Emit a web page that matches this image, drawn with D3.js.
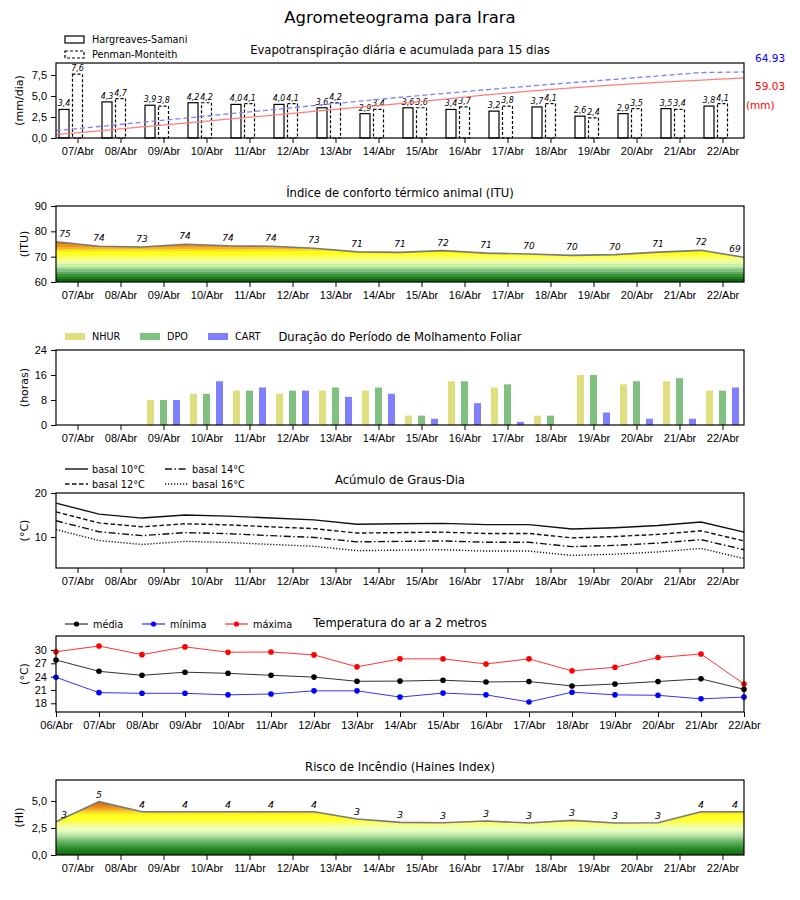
<!DOCTYPE html>
<html>
<head>
<meta charset="utf-8">
<script src="https://cdn.jsdelivr.net/npm/d3@7"></script>
<style>
  body { margin: 0; background: #fff; }
  svg { font-family: "DejaVu Sans", sans-serif; }
  .tick text { font-size: 11px; fill: #000; }
  .tick line { stroke: #000; }
</style>
</head>
<body>
<svg id="canvas" width="800" height="900"></svg>
<script>
// Tick labels
const days = ["07/Abr", "08/Abr", "09/Abr", "10/Abr", "11/Abr", "12/Abr", "13/Abr", "14/Abr",
  "15/Abr", "16/Abr", "17/Abr", "18/Abr", "19/Abr", "20/Abr", "21/Abr", "22/Abr"];
const edges = ["06/Abr"].concat(days);

// Evapotranspiration (mm/dia) and accumulated (mm)
const etHS = [3.4, 4.3, 3.9, 4.2, 4.0, 4.0, 3.6, 2.9, 3.6, 3.4, 3.2, 3.7, 2.6, 2.9, 3.5, 3.8];
const etPM = [7.6, 4.7, 3.8, 4.2, 4.1, 4.1, 4.2, 3.4, 3.6, 3.7, 3.8, 4.1, 2.4, 3.5, 3.4, 4.1];
const accHS = [3.3, 7.1, 10.9, 14.7, 18.5, 22.3, 26.1, 30.0, 33.8, 38.0, 42.3, 46.0, 49.2, 52.2, 54.6, 56.8, 59.0];
const accPM = [7.2, 11.3, 15.4, 19.5, 23.6, 27.7, 31.8, 35.9, 40.0, 43.7, 47.4, 51.0, 54.4, 57.7, 61.0, 64.3, 64.9];
const accLabels = ["64.93", "59.03"];

// ITU
const itu = [75.9, 74.1, 73.8, 74.9, 74.3, 74.1, 73.3, 71.9, 71.7, 72.4, 71.4, 71.05, 70.5, 70.8, 71.8, 72.5, 69.75];
const ituLabels = [75, 74, 73, 74, 74, 74, 73, 71, 71, 72, 71, 70, 70, 70, 71, 72, 69];

// Leaf wetness (horas)
const wetNHUR = [0, 0, 8, 10, 11, 10, 11, 11, 3, 14, 12, 3, 16, 13, 14, 11];
const wetDPO  = [0, 0, 8, 10, 11, 11, 12, 12, 3, 14, 13, 3, 16, 14, 15, 11];
const wetCART = [0, 0, 8, 14, 12, 11, 9, 10, 2, 7, 1, 0, 4, 2, 2, 12];

// Growing degree days
const gdd10 = [17.7, 15.2, 14.3, 15.0, 14.75, 14.3, 13.9, 12.9, 13.0, 13.1, 12.8, 12.8, 11.8, 12.1, 12.6, 13.4, 11.1];
const gdd12 = [15.7, 13.2, 12.3, 13.0, 12.75, 12.3, 11.9, 10.9, 11.0, 11.1, 10.8, 10.8, 9.8, 10.1, 10.6, 11.4, 9.1];
const gdd14 = [13.7, 11.2, 10.3, 11.0, 10.75, 10.3, 9.9, 8.9, 9.0, 9.1, 8.8, 8.8, 7.8, 8.1, 8.6, 9.4, 7.1];
const gdd16 = [11.7, 9.2, 8.3, 9.0, 8.75, 8.3, 7.9, 6.9, 7.0, 7.1, 6.8, 6.8, 5.8, 6.1, 6.6, 7.4, 5.1];

// Air temperature (°C)
const tMean = [27.75, 25.2, 24.3, 25.0, 24.75, 24.3, 23.9, 22.95, 23.0, 23.2, 22.8, 22.9, 21.9, 22.35, 22.9, 23.5, 21.15];
const tMin  = [23.85, 20.4, 20.25, 20.25, 19.9, 20.1, 20.8, 20.8, 19.4, 20.3, 19.9, 18.3, 20.5, 19.9, 19.8, 19.0, 19.4];
const tMax  = [29.6, 30.9, 28.95, 30.7, 29.5, 29.55, 28.9, 26.2, 28.0, 28.0, 26.85, 28.0, 25.3, 26.1, 28.3, 29.1, 22.35];

// Haines index
const haines = [3.08, 4.94, 4.0, 4.0, 4.0, 4.0, 4.0, 3.33, 3.02, 2.99, 3.15, 2.96, 3.2, 2.96, 2.99, 4.0, 4.0];

const svg = d3.select("#canvas");
const x = d3.scaleLinear().domain([0, 16]).range([56, 744]);
const comma = (f) => (d) => d3.format(f)(d).replace(".", ",");

// Frame, axes and titles of one panel
const drawPanel = (y, opts) => {
  const [bottom, top] = y.range();
  const g = svg.append("g");
  const xAxis = d3.axisBottom(x).tickSize(5).tickPadding(4);
  if (opts.edges) {
    xAxis.tickValues(d3.range(17)).tickFormat((d) => edges[d]);
  } else {
    xAxis.tickValues(d3.range(16).map((i) => i + 0.5)).tickFormat((d) => days[d - 0.5]);
  }
  g.append("g").attr("transform", `translate(0,${bottom})`).call(xAxis)
    .call((a) => a.select(".domain").remove());
  g.append("g").attr("transform", "translate(56,0)")
    .call(d3.axisLeft(y).tickValues(opts.ticks).tickFormat(opts.fmt).tickSize(5).tickPadding(4))
    .call((a) => a.select(".domain").remove());
  g.append("text")
    .attr("transform", `translate(${opts.labelX},${(top + bottom) / 2}) rotate(-90)`)
    .attr("text-anchor", "middle").attr("dy", "0.35em")
    .style("font-size", "11px").text(opts.label);
  g.append("text").attr("x", 400).attr("y", top - 9).attr("text-anchor", "middle")
    .style("font-size", "11.6px").text(opts.title);
  return g;
};

const frame = (g, y) => {
  const [bottom, top] = y.range();
  g.append("rect").attr("x", 56).attr("y", top).attr("width", 688).attr("height", bottom - top)
    .attr("fill", "none").attr("stroke", "#000").attr("stroke-width", 1.2);
};

const defs = svg.append("defs");
const banded = (id, y, stops) => {
  const grad = defs.append("linearGradient").attr("id", id)
    .attr("gradientUnits", "userSpaceOnUse")
    .attr("x1", 0).attr("x2", 0)
    .attr("y1", y(y.domain()[0])).attr("y2", y(y.domain()[1]));
  const span = y.domain()[1] - y.domain()[0];
  stops.forEach(([v, c], k) => {
    const next = k < stops.length - 1 ? stops[k + 1][0] : y.domain()[1];
    grad.append("stop").attr("offset", (v - y.domain()[0]) / span).attr("stop-color", c);
    grad.append("stop").attr("offset", (next - y.domain()[0]) / span).attr("stop-color", c);
  });
};

svg.append("text").attr("x", 400).attr("y", 23).attr("text-anchor", "middle")
  .style("font-size", "16.5px").text("Agrometeograma para Irara");

// ---------- Panel 1: evapotranspiration
const yEt = d3.scaleLinear().domain([0, 8.93]).range([138, 63]);
const yAcc = d3.scaleLinear().domain([0, 73.7]).range([138, 63]);
const p1 = drawPanel(yEt, {
  ticks: [0, 2.5, 5, 7.5], fmt: comma(".1f"), label: "(mm/dia)", labelX: 19,
  title: "Evapotranspiração diária e acumulada para 15 dias",
});
const barW = 10;
[[etHS, -13.5, null], [etPM, 0, "3,2"]].forEach(([vals, off, dash]) => {
  p1.append("g").selectAll("rect").data(vals).join("rect")
    .attr("x", (d, i) => x(i + 0.5) + off - barW / 2)
    .attr("y", (d) => yEt(d))
    .attr("width", barW)
    .attr("height", (d) => yEt(0) - yEt(d))
    .attr("fill", "#fff").attr("stroke", "#000").attr("stroke-width", 1.2)
    .attr("stroke-dasharray", dash);
  p1.append("g").selectAll("text").data(vals).join("text")
    .attr("x", (d, i) => x(i + 0.5) + off)
    .attr("y", (d) => yEt(d) - 3)
    .attr("text-anchor", "middle")
    .style("font-size", "8px").style("font-style", "italic")
    .text((d) => comma(".1f")(d));
});
p1.append("path").datum(accHS)
  .attr("d", d3.line().x((d, i) => x(i)).y((d) => yAcc(d)))
  .attr("fill", "none").attr("stroke", "#ff7f7f").attr("stroke-width", 1.3);
p1.append("path").datum(accPM)
  .attr("d", d3.line().x((d, i) => x(i)).y((d) => yAcc(d)))
  .attr("fill", "none").attr("stroke", "#7f7fff").attr("stroke-width", 1.3)
  .attr("stroke-dasharray", "5,3");
frame(p1, yEt);
p1.append("text").attr("x", 755).attr("y", 62).attr("fill", "#0000ff")
  .style("font-size", "10.5px").text(accLabels[0]);
p1.append("text").attr("x", 755).attr("y", 90).attr("fill", "#ff0000")
  .style("font-size", "10.5px").text(accLabels[1]);
p1.append("text").attr("x", 746).attr("y", 109).attr("fill", "#ff0000")
  .style("font-size", "10.5px").text("(mm)");
// legend
[["Hargreaves-Samani", null, 36], ["Penman-Monteith", "3,2", 51]].forEach(([name, dash, yy]) => {
  p1.append("rect").attr("x", 65).attr("y", yy).attr("width", 19).attr("height", 7)
    .attr("fill", "#fff").attr("stroke", "#000").attr("stroke-width", 1.2)
    .attr("stroke-dasharray", dash);
  p1.append("text").attr("x", 92).attr("y", yy + 7).style("font-size", "9.7px").text(name);
});

// ---------- Panel 2: ITU
const yItu = d3.scaleLinear().domain([60, 90]).range([282, 206]);
const p2 = drawPanel(yItu, {
  ticks: [60, 70, 80, 90], fmt: d3.format("d"), label: "(ITU)", labelX: 24,
  title: "Índice de conforto térmico animal (ITU)",
});
banded("gradItu", yItu, [
  [60, "#0b680b"], [61, "#1f7d1f"], [62, "#3a923a"], [63, "#5aa85a"], [64, "#80c080"],
  [65, "#a8dc98"], [66, "#cdf0aa"], [67, "#e4fcae"], [68, "#f2ff9a"], [69, "#fbff6a"],
  [70, "#ffff33"], [71, "#ffff10"], [72.4, "#fbd830"], [73.2, "#f5b025"],
  [74, "#ec9418"], [75, "#e07612"], [76, "#d45c10"],
]);
p2.append("path").datum(itu)
  .attr("d", d3.area().x((d, i) => x(i)).y0(yItu(60)).y1((d) => yItu(d)))
  .attr("fill", "url(#gradItu)");
p2.append("path").datum(itu)
  .attr("d", d3.line().x((d, i) => x(i)).y((d) => yItu(d)))
  .attr("fill", "none").attr("stroke", "#7a7a7a").attr("stroke-width", 1.6);
p2.append("g").selectAll("text").data(ituLabels).join("text")
  .attr("x", (d, i) => Math.min(Math.max(x(i), 65), 735))
  .attr("y", (d, i) => yItu(itu[i]) - 5)
  .attr("text-anchor", "middle")
  .style("font-size", "9px").style("font-style", "italic")
  .text((d) => d);
frame(p2, yItu);

// ---------- Panel 3: leaf wetness
const yWet = d3.scaleLinear().domain([0, 24]).range([425, 350]);
const p3 = drawPanel(yWet, {
  ticks: [0, 8, 16, 24], fmt: d3.format("d"), label: "(horas)", labelX: 24,
  title: "Duração do Período de Molhamento Foliar",
});
const wetSeries = [
  ["NHUR", wetNHUR, "#dfdf80", -13, 65],
  ["DPO", wetDPO, "#80c080", 0, 140],
  ["CART", wetCART, "#8080ff", 13, 208],
];
wetSeries.forEach(([name, vals, color, off, lx]) => {
  p3.append("g").selectAll("rect").data(vals).join("rect")
    .attr("x", (d, i) => x(i + 0.5) + off - 3.5)
    .attr("y", (d) => yWet(d))
    .attr("width", 7)
    .attr("height", (d) => yWet(0) - yWet(d))
    .attr("fill", color);
  p3.append("rect").attr("x", lx).attr("y", 333).attr("width", 20).attr("height", 7).attr("fill", color);
  p3.append("text").attr("x", lx + 27).attr("y", 340).style("font-size", "9.7px").text(name);
});
frame(p3, yWet);

// ---------- Panel 4: degree days
const yGdd = d3.scaleLinear().domain([2.95, 20]).range([568, 493]);
const p4 = drawPanel(yGdd, {
  ticks: [10, 20], fmt: d3.format("d"), label: "(°C)", labelX: 24,
  title: "Acúmulo de Graus-Dia",
});
const gddSeries = [
  ["basal 10°C", gdd10, null, 65, 469],
  ["basal 12°C", gdd12, "4.5,2.5", 65, 484],
  ["basal 14°C", gdd14, "7,2.5,1.5,2.5", 165, 469],
  ["basal 16°C", gdd16, "1.2,1.8", 165, 484],
];
gddSeries.forEach(([name, vals, dash, lx, ly]) => {
  p4.append("path").datum(vals)
    .attr("d", d3.line().x((d, i) => x(i)).y((d) => yGdd(d)))
    .attr("fill", "none").attr("stroke", "#111").attr("stroke-width", 1.4)
    .attr("stroke-dasharray", dash);
  p4.append("line").attr("x1", lx).attr("x2", lx + 23).attr("y1", ly).attr("y2", ly)
    .attr("stroke", "#111").attr("stroke-width", 1.4).attr("stroke-dasharray", dash);
  p4.append("text").attr("x", lx + 27).attr("y", ly + 3.5).style("font-size", "9.7px").text(name);
});
frame(p4, yGdd);

// ---------- Panel 5: temperature
const yT = d3.scaleLinear().domain([16.04, 33.15]).range([712, 636]);
const p5 = drawPanel(yT, {
  ticks: [18, 21, 24, 27, 30], fmt: d3.format("d"), label: "(°C)", labelX: 24,
  title: "Temperatura do ar a 2 metros", edges: true,
});
const tSeries = [
  ["média", tMean, "#000", 65],
  ["mínima", tMin, "#0000ff", 142],
  ["máxima", tMax, "#ff0000", 225],
];
tSeries.forEach(([name, vals, color, lx]) => {
  p5.append("path").datum(vals)
    .attr("d", d3.line().x((d, i) => x(i)).y((d) => yT(d)))
    .attr("fill", "none").attr("stroke", color).attr("stroke-width", 1).attr("opacity", 0.8);
  p5.append("g").selectAll("circle").data(vals).join("circle")
    .attr("cx", (d, i) => x(i)).attr("cy", (d) => yT(d)).attr("r", 2.8).attr("fill", color);
  p5.append("line").attr("x1", lx).attr("x2", lx + 23).attr("y1", 624).attr("y2", 624)
    .attr("stroke", color).attr("stroke-width", 1);
  p5.append("circle").attr("cx", lx + 11.5).attr("cy", 624).attr("r", 2.6).attr("fill", color);
  p5.append("text").attr("x", lx + 28).attr("y", 627.5).style("font-size", "9.7px").text(name);
});
frame(p5, yT);

// ---------- Panel 6: Haines
const yH = d3.scaleLinear().domain([0, 6.94]).range([855, 780]);
const p6 = drawPanel(yH, {
  ticks: [0, 2.5, 5], fmt: comma(".1f"), label: "(HI)", labelX: 19,
  title: "Risco de Incêndio (Haines Index)",
});
const hGrad = defs.append("linearGradient").attr("id", "gradH")
  .attr("gradientUnits", "userSpaceOnUse").attr("x1", 0).attr("x2", 0)
  .attr("y1", yH(0)).attr("y2", yH(5));
[[0, "#0b680b"], [0.12, "#2a8a2a"], [0.25, "#6ab56a"], [0.36, "#b8e4a4"], [0.46, "#eaffc4"],
 [0.56, "#f6ff90"], [0.64, "#ffff30"], [0.74, "#ffff18"], [0.8, "#f8d030"], [0.86, "#eea020"],
 [0.93, "#e27a14"], [1, "#d45c10"]].forEach(([o, c]) => {
  hGrad.append("stop").attr("offset", o).attr("stop-color", c);
});
p6.append("path").datum(haines)
  .attr("d", d3.area().x((d, i) => x(i)).y0(yH(0)).y1((d) => yH(d)))
  .attr("fill", "url(#gradH)");
p6.append("path").datum(haines)
  .attr("d", d3.line().x((d, i) => x(i)).y((d) => yH(d)))
  .attr("fill", "none").attr("stroke", "#7a7a7a").attr("stroke-width", 1.6);
p6.append("g").selectAll("text").data(haines).join("text")
  .attr("x", (d, i) => Math.min(Math.max(x(i), 64), 735))
  .attr("y", (d) => yH(d) - 4)
  .attr("text-anchor", "middle")
  .style("font-size", "9.5px").style("font-style", "italic")
  .text((d) => Math.round(d));
frame(p6, yH);
</script>
</body>
</html>
